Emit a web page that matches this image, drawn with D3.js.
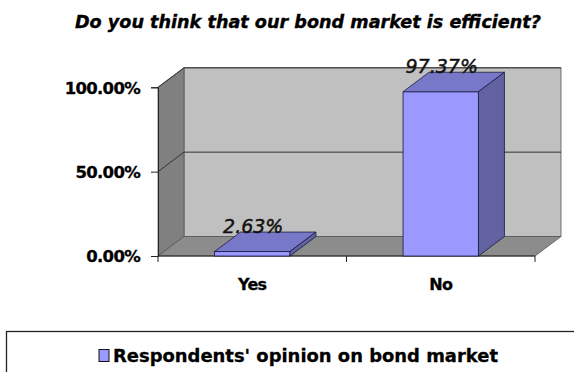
<!DOCTYPE html>
<html>
<head>
<meta charset="utf-8">
<script src="https://cdn.jsdelivr.net/npm/d3@7"></script>
<style>
body{margin:0;background:#fff;}
svg{display:block;}
text{font-family:"DejaVu Sans",Verdana,sans-serif;}
</style>
</head>
<body>
<script>
var categories = ["Yes","No"];
var values = [0.0263, 0.9737];
var valueLabels = ["2.63%","97.37%"];
var yTicks = [0, 0.5, 1];
var seriesName = "Respondents' opinion on bond market";
var title = "Do you think that our bond market is efficient?";

var W = 574, H = 372;
var dx = 26, dy = -19.5;   // depth of the 3d box
var svg = d3.select("body").append("svg").attr("width", W).attr("height", H);

var x = d3.scaleBand().domain(categories).range([158,535]).paddingInner(0.6).paddingOuter(0.3);
var y = d3.scaleLinear().domain([0,1]).range([256,87.3]);
var x0 = 158, x1 = 535, y0 = y(0), yT = y(1);

function poly(pts){ return "M" + pts.map(p=>p.join(",")).join("L") + "Z"; }

// title
svg.append("text").attr("x",308).attr("y",28).attr("text-anchor","middle")
	.attr("font-size",17).attr("font-weight","bold").attr("font-style","italic")
	.attr("stroke","#000").attr("stroke-width",0.35)
	.attr("textLength",466).attr("lengthAdjust","spacingAndGlyphs")
	.text(title);

// walls + floor
svg.append("rect").attr("x",x0+dx).attr("y",yT+dy).attr("width",x1-x0).attr("height",y0-yT)
	.attr("fill","#c0c0c0").attr("stroke","#555").attr("stroke-width",0.8);
svg.append("path").attr("d",poly([[x0,y0],[x0,yT],[x0+dx,yT+dy],[x0+dx,y0+dy]]))
	.attr("fill","#808080").attr("stroke","#555").attr("stroke-width",0.8);
svg.append("path").attr("d",poly([[x0,y0],[x1,y0],[x1+dx,y0+dy],[x0+dx,y0+dy]]))
	.attr("fill","#8c8c8c").attr("stroke","#555").attr("stroke-width",0.8);

// gridlines
yTicks.filter(t=>t>0).forEach(function(t){
	svg.append("path").attr("d","M"+x0+","+y(t)+"L"+(x0+dx)+","+(y(t)+dy)+"L"+(x1+dx)+","+(y(t)+dy))
		.attr("fill","none").attr("stroke","#333").attr("stroke-width",1);
});

// y axis
var ya = svg.append("g").attr("transform","translate("+x0+",0)")
	.call(d3.axisLeft(y).tickValues(yTicks).tickSize(7).tickPadding(11).tickFormat(d3.format(".2%")));
ya.select(".domain").attr("stroke","#222");
ya.selectAll(".tick line").attr("stroke","#222");
ya.selectAll(".tick text").attr("font-size",16.5).attr("font-weight","bold").attr("fill","#000")
	.attr("font-family","DejaVu Sans").attr("letter-spacing",-0.7).attr("dy","0.36em")
	.attr("stroke","#000").attr("stroke-width",0.3);

// x axis (ticks between categories)
svg.append("line").attr("x1",x0).attr("x2",x1).attr("y1",y0).attr("y2",y0).attr("stroke","#222");
d3.range(categories.length+1).forEach(function(i){
	var tx = x0 + i*x.step();
	svg.append("line").attr("x1",tx).attr("x2",tx).attr("y1",y0).attr("y2",y0+6).attr("stroke","#222");
});
svg.selectAll(".xlab").data(categories).enter().append("text").attr("class","xlab")
	.attr("x",d=>x(d)+x.bandwidth()/2).attr("y",290).attr("text-anchor","middle")
	.attr("font-size",16).attr("font-weight","bold").attr("letter-spacing",-0.7)
	.attr("stroke","#000").attr("stroke-width",0.3)
	.text(d=>d);

// bars
var bars = svg.selectAll(".bar").data(categories).enter().append("g").attr("class","bar");
bars.each(function(d,i){
	var g = d3.select(this), xl = x(d), xr = x(d)+x.bandwidth(), yt = y(values[i]);
	g.append("rect").attr("x",xl).attr("y",yt).attr("width",xr-xl).attr("height",y0-yt)
		.attr("fill","#9999ff").attr("stroke","#1a1a40").attr("stroke-width",0.8);
	g.append("path").attr("d",poly([[xl,yt],[xl+dx,yt+dy],[xr+dx,yt+dy],[xr,yt]]))
		.attr("fill","#7878c8").attr("stroke","#1a1a40").attr("stroke-width",0.8);
	g.append("path").attr("d",poly([[xr,yt],[xr+dx,yt+dy],[xr+dx,y0+dy],[xr,y0]]))
		.attr("fill","#6262a2").attr("stroke","#1a1a40").attr("stroke-width",0.8);
});

// value labels
svg.selectAll(".vlab").data(categories).enter().append("text").attr("class","vlab")
	.attr("x",d=>x(d)+x.bandwidth()/2+1).attr("y",(d,i)=>y(values[i])+dy+1)
	.attr("text-anchor","middle").attr("font-family","Liberation Sans").attr("font-style","italic")
	.attr("font-size",19).attr("fill","#111").attr("stroke","#111").attr("stroke-width",0.45)
	.text((d,i)=>valueLabels[i]);

// legend
svg.append("rect").attr("x",6.5).attr("y",331.5).attr("width",620).attr("height",80)
	.attr("fill","#fff").attr("stroke","#222").attr("stroke-width",1.3);
svg.append("rect").attr("x",99).attr("y",349.5).attr("width",10).attr("height",12)
	.attr("fill","#9999ff").attr("stroke","#111").attr("stroke-width",1);
svg.append("text").attr("x",113).attr("y",361.5).attr("font-size",18).attr("font-weight","bold")
	.attr("stroke","#000").attr("stroke-width",0.3)
	.attr("textLength",385).attr("lengthAdjust","spacingAndGlyphs")
	.text(seriesName);
</script>
</body>
</html>
